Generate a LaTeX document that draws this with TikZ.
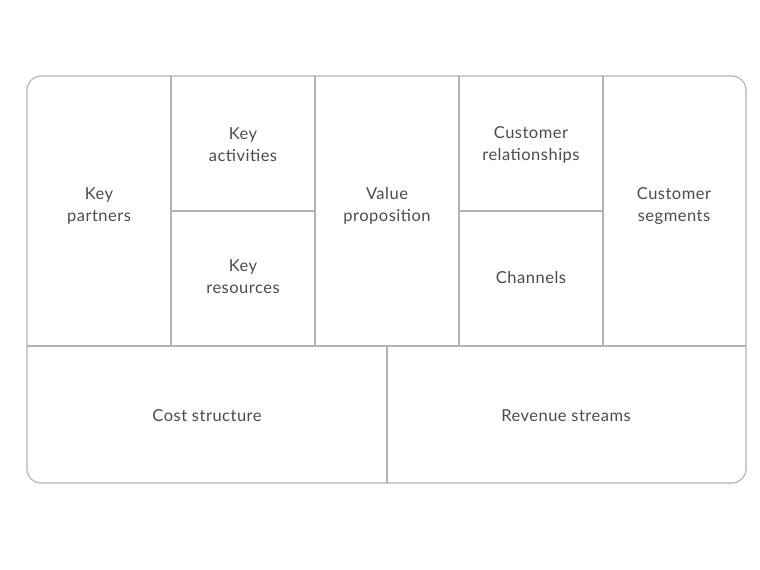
\documentclass[tikz,border=0pt]{standalone}
\usepackage{fontspec}
\setmainfont{Lato}[LetterSpace=3]
\begin{document}
\begin{tikzpicture}[x=1pt,y=-1pt,
  lbl/.style={align=center,text=black!70,font=\fontsize{16.5}{22}\selectfont},
  ln/.style={draw=black!30,line width=1.1pt}]
\useasboundingbox (0,0) rectangle (760,570);
\fill[white] (0,0) rectangle (760,570);
\draw[ln,rounded corners=14pt] (27,76) rectangle (746,483);
\draw[ln] (27,346) -- (746,346);
\foreach \x in {171,315,459,603} \draw[ln] (\x,76) -- (\x,346);
\draw[ln] (171,211) -- (315,211);
\draw[ln] (459,211) -- (603,211);
\draw[ln] (387,346) -- (387,483);
\node[lbl] (kp) at (99,206) {Key\\partners};
\node[lbl] (ka) at (243,145) {Key\\activities};
\node[lbl] (kr) at (243,277) {Key\\resources};
\node[lbl] (vp) at (387,206) {Value\\proposition};
\node[lbl] (cr) at (531,145) {Customer\\relationships};
\node[lbl] (ch) at (531,277) {Channels};
\node[lbl] (cs) at (674,206) {Customer\\segments};
\node[lbl] (co) at (207,416) {Cost structure};
\node[lbl] (rs) at (566,416) {Revenue streams};
\end{tikzpicture}
\end{document}
